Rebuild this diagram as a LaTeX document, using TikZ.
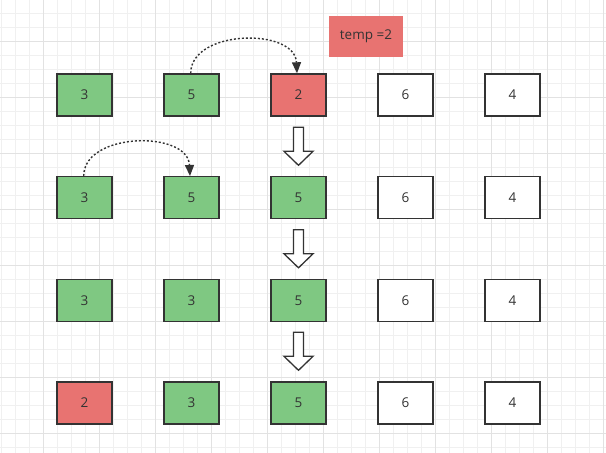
\documentclass[tikz,border=0pt]{standalone}
\usepackage{fontspec}
\setmainfont{Open Sans}
\usetikzlibrary{arrows.meta}
\definecolor{gfill}{HTML}{7FC882}
\definecolor{rfill}{HTML}{E87371}
\definecolor{edge}{HTML}{333333}
\definecolor{gminor}{HTML}{F0F0F0}
\definecolor{gmajor}{HTML}{E2E2E2}
\tikzset{
  cell/.style={draw=edge, line width=1.4pt, minimum width=55pt, minimum height=42pt, inner sep=0pt, text=edge, font=\fontsize{13.5pt}{15pt}\selectfont},
  gcell/.style={cell, fill=gfill},
  rcell/.style={cell, fill=rfill},
  wcell/.style={cell, fill=white},
  swap/.style={draw=edge, line width=1.4pt, dash pattern=on 2pt off 2pt, -{Triangle[length=11pt,width=9pt]}},
  blockarrow/.style={draw=edge, fill=white, line width=1.3pt, line join=miter},
}
\begin{document}
\begin{tikzpicture}[x=1pt,y=-1pt]
\useasboundingbox (0,0) rectangle (606,453);
\fill[white] (0,0) rectangle (606,453);
% grid
\foreach \k in {0,...,43} { \draw[gminor, line width=1pt] ({1.3+14*\k},0) -- ({1.3+14*\k},453); }
\foreach \k in {0,...,32} { \draw[gminor, line width=1pt] (0,{-0.7+14*\k}) -- (606,{-0.7+14*\k}); }
\foreach \k in {0,...,10} { \draw[gmajor, line width=1pt] ({43.3+56*\k},0) -- ({43.3+56*\k},453); }
\foreach \k in {0,...,7} { \draw[gmajor, line width=1pt] (0,{41.3+56*\k}) -- (606,{41.3+56*\k}); }

% temp
\node[fill=rfill, minimum width=73.5pt, minimum height=41pt, inner sep=0pt, text=edge, font=\fontsize{13.5pt}{15pt}\selectfont] (temp) at (366,36.3) {temp =2};

% row 1
\node[gcell] (a1) at (84.5,95) {3};
\node[gcell] (a2) at (191.5,95) {5};
\node[rcell] (a3) at (298.5,95) {2};
\node[wcell] (a4) at (405.5,95) {6};
\node[wcell] (a5) at (512.5,95) {4};
% row 2
\node[gcell] (b1) at (84.5,197.7) {3};
\node[gcell] (b2) at (191.5,197.7) {5};
\node[gcell] (b3) at (298.5,197.7) {5};
\node[wcell] (b4) at (405.5,197.7) {6};
\node[wcell] (b5) at (512.5,197.7) {4};
% row 3
\node[gcell] (c1) at (84.5,300.3) {3};
\node[gcell] (c2) at (191.5,300.3) {3};
\node[gcell] (c3) at (298.5,300.3) {5};
\node[wcell] (c4) at (405.5,300.3) {6};
\node[wcell] (c5) at (512.5,300.3) {4};
% row 4
\node[rcell] (d1) at (84.5,403) {2};
\node[gcell] (d2) at (191.5,403) {3};
\node[gcell] (d3) at (298.5,403) {5};
\node[wcell] (d4) at (405.5,403) {6};
\node[wcell] (d5) at (512.5,403) {4};

% swap arcs
\draw[swap] ([xshift=-0.8pt]a2.north) .. controls +(0,-44) and +(-2,-46) .. ([xshift=-1.5pt]a3.north);
\draw[swap] ([xshift=-0.8pt]b1.north) .. controls +(0,-44) and +(-2,-46) .. ([xshift=-1.5pt]b2.north);

% block arrows
\foreach \y in {127.3,229.8,332.3} {
  \draw[blockarrow] (293.5,\y) -- (303.5,\y) -- (303.5,{\y+24}) -- (313,{\y+24}) -- (298.5,{\y+38}) -- (284,{\y+24}) -- (293.5,{\y+24}) -- cycle;
}
\end{tikzpicture}
\end{document}
